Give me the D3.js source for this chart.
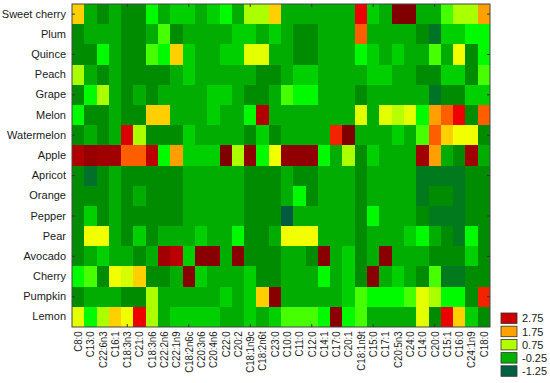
<!DOCTYPE html>
<html>
<head>
<meta charset="utf-8">
<script src="https://cdn.jsdelivr.net/npm/d3@7"></script>
<style>
  body { margin: 0; background: #fff; }
  text { font-family: "Liberation Sans", Arial, sans-serif; fill: #1a1a1a; }
</style>
</head>
<body>
<svg id="heatmap" width="550" height="383"></svg>
<script>
/* data */
var fruits = ["Sweet cherry","Plum","Quince","Peach","Grape","Melon","Watermelon","Apple",
              "Apricot","Orange","Pepper","Pear","Avocado","Cherry","Pumpkin","Lemon"];

var acids = ["C8:0","C13:0","C22:6n3","C16:1","C18:3n3","C21:0","C18:3n6","C22:2n6","C22:1n9",
             "C18:2n6c","C20:3n6","C20:4n6","C22:0","C20:2","C18:1n9c","C18:2n6t","C23:0","C10:0",
             "C11:0","C12:0","C14:1","C17:0","C20:1","C18:1n9t","C15:0","C17:1","C20:5n3","C24:0",
             "C14:0","C20:0","C15:1","C16:0","C24:1n9","C18:0"];

var sweetCherry = [1.35,-0.1,-0.5,-0.1,-0.5,-0.5,0.45,-0.1,0.2,0.2,-0.1,0.2,0.45,-0.1,0.8,0.8,1.35,-0.1,-0.1,-0.1,-0.1,-0.1,-0.1,2.6,0.2,-0.1,3.2,3.2,-0.1,-0.1,0.6,0.8,0.8,1.75];
var plum        = [-0.5,-0.1,-0.1,-0.1,-0.5,-0.5,-0.1,0.6,-0.5,-0.1,-0.1,-0.1,-0.1,0.2,0.2,-0.1,0.2,-0.1,-0.5,-0.5,-0.1,-0.1,-0.1,2.2,-0.1,-0.1,-0.1,-0.1,-0.5,-0.9,0.2,0.2,0.45,0.45];
var quince      = [-0.5,-0.5,0.45,-0.1,-0.5,-0.5,0.6,0.45,1.35,0.2,-0.1,-0.1,0.2,0.2,1.0,1.0,-0.1,-0.1,-0.5,-0.5,-0.1,-0.1,-0.1,0.45,0.2,-0.1,0.2,-0.1,-0.1,0.6,-0.1,1.05,-0.5,0.45];
var peach       = [0.8,-0.1,-0.5,-0.1,-0.5,-0.5,-0.5,-0.5,-0.1,0.2,-0.1,-0.1,-0.1,-0.1,-0.1,-0.5,-0.5,-0.1,0.2,0.2,-0.1,-0.1,-0.1,-0.1,0.2,0.2,-0.1,-0.1,-0.5,-0.5,0.2,0.2,-0.5,0.6];
var grape       = [-0.5,0.45,0.8,-0.1,-0.5,-0.1,-0.5,-0.1,-0.1,-0.1,-0.1,0.2,0.2,-0.1,-0.5,-0.5,-0.1,0.6,0.45,0.45,-0.1,-0.1,-0.1,-0.5,-0.1,-0.1,-0.1,-0.1,-0.1,-0.9,-0.5,-0.5,0.2,0.2];
var melon       = [0.45,-0.5,-0.5,-0.1,-0.5,-0.5,1.35,1.35,-0.1,-0.1,-0.1,0.2,-0.1,-0.1,0.45,2.9,-0.1,-0.1,-0.1,-0.1,-0.1,-0.1,-0.1,1.0,-0.1,1.0,0.85,1.0,0.45,1.75,2.2,2.6,-0.5,2.2];
var watermelon  = [-0.5,-0.1,-0.5,-0.1,2.7,0.8,-0.5,-0.5,-0.5,0.2,-0.1,-0.1,-0.1,-0.1,-0.5,0.2,-0.5,-0.1,-0.1,-0.1,-0.1,2.45,3.2,-0.1,-0.1,-0.1,0.2,-0.1,0.6,2.2,1.35,1.05,1.05,-0.5];
var apple       = [2.9,3.05,3.0,3.0,2.2,2.2,2.85,0.45,1.75,0.2,0.2,0.2,3.2,0.8,3.1,0.45,1.05,3.1,3.1,3.1,0.45,-0.1,0.8,-0.5,0.2,-0.1,-0.1,-0.1,3.0,1.75,-0.1,-0.5,3.0,-0.1];
var apricot     = [-0.5,-1.0,-0.5,-0.1,-0.5,-0.5,-0.5,-0.5,-0.5,-0.1,-0.1,-0.1,-0.1,-0.1,-0.5,-0.5,-0.5,-0.1,-0.5,-0.5,-0.1,-0.1,-0.1,-0.5,-0.1,-0.1,-0.1,-0.1,-0.8,-0.8,-0.8,-0.8,-0.5,-0.5];
var orange      = [-0.5,-0.5,-0.5,-0.1,-0.5,-0.1,-0.5,-0.5,-0.5,-0.1,-0.1,-0.1,-0.1,-0.1,-0.5,-0.5,-0.5,-0.1,0.45,-0.5,-0.1,-0.1,-0.1,-0.5,-0.1,-0.1,-0.1,-0.1,-0.8,-0.5,-0.5,-0.8,-0.5,-0.5];
var pepper      = [-0.5,0.2,-0.5,-0.1,-0.5,-0.5,-0.5,-0.5,-0.5,-0.1,-0.1,-0.1,-0.1,-0.1,-0.5,-0.5,-0.5,-1.5,-0.1,-0.1,-0.1,-0.1,-0.1,-0.5,0.45,-0.1,-0.1,-0.1,-0.5,-0.8,-0.8,-0.8,-0.5,-0.5];
var pear        = [-0.5,1.05,1.05,-0.1,-0.5,0.2,-0.5,-0.1,-0.1,-0.1,0.2,-0.1,-0.1,0.45,-0.5,-0.5,-0.1,1.05,1.05,1.05,-0.1,-0.1,-0.1,-0.5,-0.1,-0.1,-0.1,0.2,0.45,-0.1,-0.5,-0.8,0.45,-0.5];
var avocado     = [-0.5,-0.1,0.2,-0.1,-0.1,-0.5,-0.1,3.0,2.85,0.2,3.15,3.15,-0.1,3.15,-0.5,-0.5,-0.5,-0.1,-0.1,-0.5,3.15,-0.1,0.2,-0.5,-0.1,3.15,-0.1,-0.1,-0.1,-0.5,-0.5,-0.5,0.2,-0.5];
var cherry      = [0.45,0.6,-0.5,1.05,0.95,1.35,-0.5,-0.5,-0.1,3.15,0.2,-0.1,-0.1,-0.1,0.2,-0.5,-0.5,-0.1,-0.1,-0.1,0.45,-0.1,0.2,-0.5,3.15,-0.1,0.2,-0.1,-0.5,0.6,-0.8,-0.8,-0.5,-0.5];
var pumpkin     = [-0.5,-0.1,-0.1,-0.1,-0.5,-0.5,0.8,-0.1,-0.1,-0.1,-0.1,-0.1,0.2,-0.1,0.2,1.35,3.15,-0.1,-0.1,-0.1,-0.1,-0.1,0.2,0.6,0.45,0.45,0.45,0.6,1.0,0.8,0.45,0.45,-0.5,2.45];
var lemon       = [1.0,0.45,0.8,1.35,1.05,2.6,0.8,-0.1,0.2,0.2,0.2,0.2,-0.1,-0.1,0.2,-0.1,0.2,0.6,0.6,0.6,0.45,3.15,0.45,0.6,-0.1,-0.1,-0.1,-0.1,1.0,-0.5,2.6,1.35,0.2,-0.5];

var legendValues = [2.75, 1.75, 0.75, -0.25, -1.25];
var legendLabels = ["2.75", "1.75", "0.75", "-0.25", "-1.25"];
var legendColors = ["#cc0000", "#ffa200", "#b2ff00", "#00b200", "#00603f"];

var grid = [sweetCherry, plum, quince, peach, grape, melon, watermelon, apple,
            apricot, orange, pepper, pear, avocado, cherry, pumpkin, lemon];

/* settings */
var margin = { left: 72, top: 4, right: 60, bottom: 56 },
    width = 550, height = 383,
    plotW = 418, plotH = 323;

var svg = d3.select("#heatmap");

var x = d3.scaleBand().domain(acids).range([margin.left, margin.left + plotW]).padding(0);
var y = d3.scaleBand().domain(fruits).range([margin.top, margin.top + plotH]).padding(0);

// green -> yellow -> red, like the Statistica palette
var colour = d3.scaleLinear()
  .domain([-1.5, -0.9, -0.5, -0.1, 0.2, 0.45, 0.6, 0.8, 1.05, 1.35, 1.75, 2.2, 2.6, 2.9, 3.2])
  .range(["#005a3e", "#007426", "#008c00", "#00ad00", "#00d000", "#00fa00", "#46ff00",
          "#aaff00", "#f2ff00", "#ffcf00", "#ffa000", "#ff5e00", "#ec0000", "#b00000", "#800000"])
  .interpolate(d3.interpolateRgb)
  .clamp(true);

var cells = [];
grid.forEach(function(row, i) {
  row.forEach(function(v, j) {
    cells.push({ fruit: fruits[i], acid: acids[j], value: v });
  });
});

svg.append("g").attr("class", "cells")
  .selectAll("rect")
  .data(cells)
  .enter().append("rect")
    .attr("x", function(d) { return x(d.acid); })
    .attr("y", function(d) { return y(d.fruit); })
    .attr("width", x.bandwidth() + 0.3)
    .attr("height", y.bandwidth() + 0.3)
    .attr("fill", function(d) { return colour(d.value); })
    .attr("shape-rendering", "crispEdges");

/* frame */
svg.append("rect")
  .attr("x", margin.left).attr("y", margin.top)
  .attr("width", plotW).attr("height", plotH)
  .attr("fill", "none").attr("stroke", "#444").attr("stroke-width", 1);

/* small inward ticks */
var ticks = svg.append("g").attr("stroke", "#333").attr("stroke-width", 1);
acids.forEach(function(a, j) {
  if (j % 5 !== 4) return;
  var cx = x(a) + x.bandwidth() / 2;
  ticks.append("line").attr("x1", cx).attr("x2", cx).attr("y1", margin.top).attr("y2", margin.top + 3);
  ticks.append("line").attr("x1", cx).attr("x2", cx).attr("y1", margin.top + plotH).attr("y2", margin.top + plotH - 3);
});
fruits.forEach(function(f, i) {
  if (i % 2 !== 0) return;
  var cy = y(f) + y.bandwidth() / 2;
  ticks.append("line").attr("x1", margin.left).attr("x2", margin.left + 3).attr("y1", cy).attr("y2", cy);
  ticks.append("line").attr("x1", margin.left + plotW).attr("x2", margin.left + plotW - 3).attr("y1", cy).attr("y2", cy);
});

/* y axis: fruits */
var yAxisG = svg.append("g")
  .attr("transform", "translate(" + margin.left + ",0)")
  .call(d3.axisLeft(y).tickSize(0).tickPadding(6));
yAxisG.select(".domain").remove();
yAxisG.selectAll("text")
  .style("font-family", "'Liberation Sans', Arial, sans-serif")
  .style("font-size", "11px")
  .attr("fill", "#1a1a1a");

/* x axis: fatty acids, rotated */
var xAxisG = svg.append("g")
  .attr("transform", "translate(0," + (margin.top + plotH) + ")")
  .call(d3.axisBottom(x).tickSize(0));
xAxisG.select(".domain").remove();
xAxisG.selectAll("text")
  .style("font-family", "'Liberation Sans', Arial, sans-serif")
  .style("font-size", "11px")
  .attr("fill", "#1a1a1a")
  .attr("x", -5)
  .attr("y", 0)
  .attr("dy", "0.35em")
  .attr("transform", "rotate(-90) scale(0.88,1)")
  .style("text-anchor", "end");

/* legend */
var legend = svg.append("g").attr("transform", "translate(501,313)");
var item = legend.selectAll("g")
  .data(legendValues)
  .enter().append("g")
    .attr("transform", function(d, i) { return "translate(0," + (i * 13.2) + ")"; });
item.append("rect")
  .attr("width", 16).attr("height", 10.5)
  .attr("fill", function(d, i) { return legendColors[i]; })
  .attr("stroke", "#333").attr("stroke-width", 0.8);
item.append("text")
  .attr("x", 21).attr("y", 5.5).attr("dy", "0.35em")
  .style("font-size", "11px")
  .text(function(d, i) { return legendLabels[i]; });
</script>
</body>
</html>
